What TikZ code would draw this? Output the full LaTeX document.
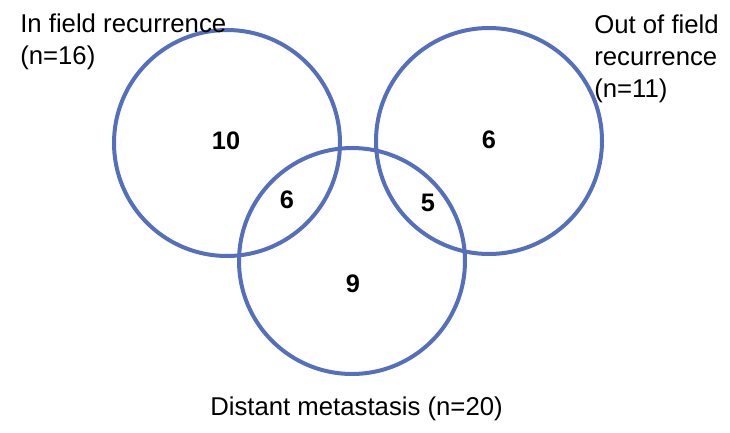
\documentclass[tikz,border=0pt]{standalone}
\usepackage{fontspec}
\setmainfont{Liberation Sans}
\usetikzlibrary{positioning}
\definecolor{vennblue}{HTML}{5470BC}

\tikzset{
  setring/.style={circle,draw=vennblue,line width=3pt,minimum size=169.5pt,inner sep=0pt},
  setlabel/.style={font=\fontsize{19.3}{24}\selectfont,align=left,inner sep=0pt},
  count/.style={font=\fontsize{19}{21}\selectfont\bfseries,inner sep=0pt}
}

\begin{document}
\begin{tikzpicture}[x=0.75pt,y=-0.75pt]
  \useasboundingbox (0,0) rectangle (730,432);

  % Sets
  \node[setring] (infield) at (227,143) {};
  \node[setring] (outfield) at (489,141) {};
  \node[setring] (distant) at (352,261) {};

  % Set names
  \node[setlabel,anchor=north west] (infieldname) at (20,14) {In field recurrence\\(n=16)};
  \node[setlabel,anchor=north west] (outfieldname) at (594,15) {Out of field\\recurrence\\(n=11)};
  \node[setlabel,anchor=base west] (distantname) at (210,415) {Distant metastasis (n=20)};

  % Counts
  \node[count] (onlyin) at (226,141) {10};
  \node[count] (onlyout) at (489,140) {6};
  \node[count] (indist) at (287,200) {6};
  \node[count] (outdist) at (428,203) {5};
  \node[count] (onlydist) at (353,284) {9};
\end{tikzpicture}
\end{document}
